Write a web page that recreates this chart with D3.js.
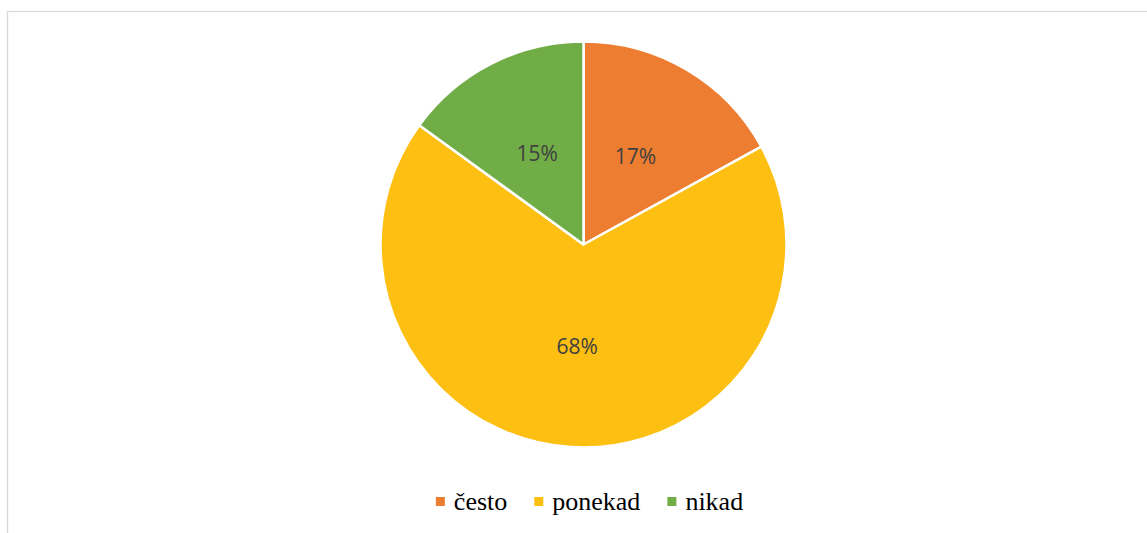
<!DOCTYPE html>
<html>
<head>
<meta charset="utf-8">
<script src="https://cdn.jsdelivr.net/npm/d3@7"></script>
<style>
  body { margin: 0; background: #fff; }
</style>
</head>
<body>
<script>
// data
var categories = ["često", "ponekad", "nikad"];
var values = [17, 68, 15];
var colors = ["#ED7D31", "#FDBF12", "#70AD47"];

// size
var svgW = 1147, svgH = 533;
var cx = 583.5, cy = 244.5, radius = 203, labelR = 102;

var svg = d3.select("body").append("svg")
    .attr("width", svgW)
    .attr("height", svgH);

// chart frame (cut at the right and bottom)
svg.append("rect")
    .attr("x", 7.5).attr("y", 11.5)
    .attr("width", 1300).attr("height", 700)
    .attr("fill", "none")
    .attr("stroke", "#d9d9d9")
    .attr("stroke-width", 1.3);

var color = d3.scaleOrdinal().domain(categories).range(colors);

var pie = d3.pie().sort(null).value(function(d) { return d.value; });
var data = categories.map(function(c, i) { return {name: c, value: values[i]}; });
var arcs = pie(data);

var arc = d3.arc().innerRadius(0).outerRadius(radius);
var labelArc = d3.arc().innerRadius(labelR).outerRadius(labelR);

var g = svg.append("g").attr("transform", "translate(" + cx + "," + cy + ")");

g.selectAll("path")
    .data(arcs)
    .enter().append("path")
    .attr("d", arc)
    .attr("fill", function(d) { return color(d.data.name); })
    .attr("stroke", "#fff")
    .attr("stroke-width", 2.5)
    .attr("stroke-linejoin", "round");

var total = d3.sum(values);
g.selectAll("text")
    .data(arcs)
    .enter().append("text")
    .attr("transform", function(d) { return "translate(" + labelArc.centroid(d) + ")"; })
    .attr("text-anchor", "middle")
    .attr("dy", "0.36em")
    .attr("font-family", "'Open Sans', sans-serif")
    .attr("font-size", 21)
    .attr("fill", "#404040")
    .text(function(d) { return Math.round(d.data.value / total * 100) + "%"; });

// legend
var legend = svg.append("g");
var items = legend.selectAll("g")
    .data(categories)
    .enter().append("g");

items.append("rect")
    .attr("width", 9).attr("height", 9)
    .attr("y", -13)
    .attr("fill", function(d) { return color(d); });

items.append("text")
    .attr("x", 18)
    .attr("font-family", "'Liberation Serif', 'Times New Roman', serif")
    .attr("font-size", 26)
    .attr("fill", "#000")
    .text(function(d) { return d; });

var xPos = 0;
items.each(function() {
    var item = d3.select(this);
    var w = 18 + item.select("text").node().getComputedTextLength();
    item.attr("transform", "translate(" + xPos + ",0)");
    xPos += w + 27;
});
var legendW = xPos - 27;
legend.attr("transform", "translate(" + (589.5 - legendW / 2) + ",510)");
</script>
</body>
</html>
